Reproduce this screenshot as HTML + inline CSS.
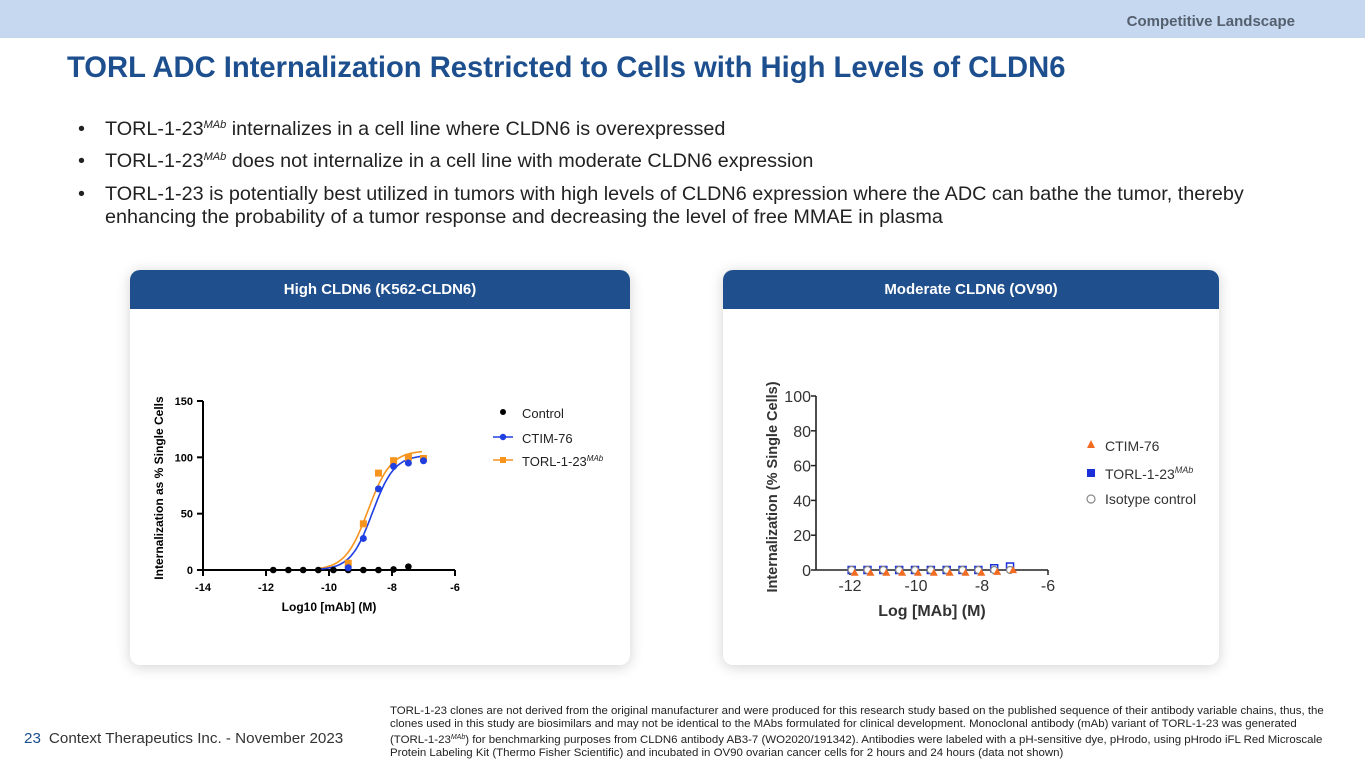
<!DOCTYPE html>
<html><head><meta charset="utf-8">
<style>
*{margin:0;padding:0;box-sizing:border-box}
body{width:1365px;height:768px;position:relative;background:#fff;font-family:"Liberation Sans",Arial,sans-serif;overflow:hidden}
.abs{position:absolute}
.banner{left:0;top:0;width:1365px;height:38px;background:#c5d8ef}
.sect{right:70px;top:13px;font-size:15px;font-weight:bold;color:#55606f}
.title{left:67px;top:52px;font-size:29.2px;font-weight:bold;color:#1d4f8f;white-space:nowrap}
.bul{left:78px;font-size:19.8px;color:#222;white-space:nowrap}
.bul span.d{position:absolute;left:0}
.bul .t{position:absolute;left:27px}
sup{font-size:11px;font-style:italic;vertical-align:7px}
.card{background:#fff;border-radius:10px;box-shadow:0 2px 14px rgba(0,0,0,0.18);overflow:hidden}
.hdr{height:39px;background:#1f4f8c;color:#fff;font-weight:bold;font-size:15px;text-align:center;line-height:40px}
.foot{left:24px;top:730px;font-size:15.2px;color:#333;white-space:nowrap}
.foot b{font-weight:normal;color:#1d4f8f;margin-right:8px}
.note{left:390px;top:705px;width:945px;font-size:11.45px;line-height:13px;color:#222}
.note sup{font-size:7px;vertical-align:4px}
</style></head><body>
<div class="abs banner"></div>
<div class="abs sect">Competitive Landscape</div>
<div class="abs title">TORL ADC Internalization Restricted to Cells with High Levels of CLDN6</div>
<div class="abs bul" style="top:118px"><span class="d">•</span><span class="t">TORL-1-23<sup>MAb</sup> internalizes in a cell line where CLDN6 is overexpressed</span></div>
<div class="abs bul" style="top:150px"><span class="d">•</span><span class="t">TORL-1-23<sup>MAb</sup> does not internalize in a cell line with moderate CLDN6 expression</span></div>
<div class="abs bul" style="top:183px;line-height:23px"><span class="d">•</span><span class="t">TORL-1-23 is potentially best utilized in tumors with high levels of CLDN6 expression where the ADC can bathe the tumor, thereby<br>enhancing the probability of a tumor response and decreasing the level of free MMAE in plasma</span></div>

<div class="abs card" style="left:130px;top:270px;width:500px;height:395px"><div class="hdr">High CLDN6 (K562-CLDN6)</div></div>
<div class="abs card" style="left:723px;top:270px;width:496px;height:395px"><div class="hdr">Moderate CLDN6 (OV90)</div></div>

<svg class="abs" style="left:0;top:0" width="1365" height="768" id="charts"></svg>

<div class="abs foot"><b>23</b>Context Therapeutics Inc. - November 2023</div>
<div class="abs note">TORL-1-23 clones are not derived from the original manufacturer and were produced for this research study based on the published sequence of their antibody variable chains, thus, the clones used in this study are biosimilars and may not be identical to the MAbs formulated for clinical development. Monoclonal antibody (mAb) variant of TORL-1-23 was generated (TORL-1-23<sup>MAb</sup>) for benchmarking purposes from CLDN6 antibody AB3-7 (WO2020/191342). Antibodies were labeled with a pH-sensitive dye, pHrodo, using pHrodo iFL Red Microscale Protein Labeling Kit (Thermo Fisher Scientific) and incubated in OV90 ovarian cancer cells for 2 hours and 24 hours (data not shown)</div>

<script>
// Chart 1 data
const c1Conc = [-11.77,-11.29,-10.82,-10.34,-9.86,-9.39,-8.91,-8.43,-7.95,-7.48,-7.0];
const c1Control = [0,0,0,0,0,0,0,0,0.5,3,99];
const c1Ctim = [null,null,null,null,null,2,28,72,92,95,97];
const c1Torl = [null,null,null,null,null,6,41,86,97,100,99];
const c1CtimFit = [-8.62,102,1.25];   // logEC50, top, hill
const c1TorlFit = [-8.76,106,1.2];
const c1XTicks = [-14,-12,-10,-8,-6];
const c1YTicks = [0,50,100,150];
// Chart 2 data
const c2Conc = [-11.95,-11.47,-10.99,-10.51,-10.03,-9.55,-9.07,-8.59,-8.11,-7.63,-7.15];
const c2Ctim = [-1,-1,-1,-1,-1,-1,-1,-1,-1,-0.5,0.5];
const c2Torl = [0,0,0,0,0,0,0,0,0,1,2];
const c2Iso = [0,0,0,0,0,0,0,0,0,0,0];
const c2XTicks = [-12,-10,-8,-6];
const c2YTicks = [0,20,40,60,80,100];

const NS="http://www.w3.org/2000/svg";
const svg=document.getElementById('charts');
function mk(tag,attrs,parent){const e=document.createElementNS(NS,tag);for(const k in attrs)e.setAttribute(k,attrs[k]);(parent||svg).appendChild(e);return e;}
function txt(x,y,s,attrs,parent){const e=mk('text',Object.assign({x:x,y:y},attrs),parent);e.textContent=s;return e;}

// ---- Chart 1 ----
const x1=v=>203+(v+14)/8*252;
const y1=v=>570-v/150*169;
const g1=mk('g',{});


mk('line',{x1:203,y1:y1(150),x2:203,y2:570,stroke:'#000','stroke-width':2},g1);
mk('line',{x1:203,y1:570,x2:455,y2:570,stroke:'#000','stroke-width':2},g1);
c1YTicks.forEach(t=>{mk('line',{x1:197,y1:y1(t),x2:203,y2:y1(t),stroke:'#000','stroke-width':2},g1);
 const l=txt(193,y1(t)+4,t,{'text-anchor':'end','font-size':11,'font-weight':'bold'},g1);
 
 });
c1XTicks.forEach(t=>{mk('line',{x1:x1(t),y1:570,x2:x1(t),y2:576,stroke:'#000','stroke-width':2},g1);
 const l=txt(x1(t),591,t,{'text-anchor':'middle','font-size':11,'font-weight':'bold'},g1);
 
 });
const xt1=txt(329,611,'Log10 [mAb] (M)',{'text-anchor':'middle','font-size':12,'font-weight':'bold'},g1);


const yt1=txt(0,0,'Internalization as % Single Cells',{'text-anchor':'middle','font-size':12,'font-weight':'bold',transform:'translate(163,488) rotate(-90)'},g1);


function sig(p,x){return p[1]/(1+Math.pow(10,(p[0]-x)*p[2]));}
function curve(p,col,name){let d='';for(let v=-10.3;v<=-7.0;v+=0.05){const yy=sig(p,v);d+=(d?'L':'M')+x1(v).toFixed(1)+','+y1(yy).toFixed(1);}
 const e=mk('path',{d:d,fill:'none',stroke:col,'stroke-width':1.6},g1);
 
 }
curve(c1TorlFit,'#f7941d','torl-fit-curve');
curve(c1CtimFit,'#1f3fe0','ctim-fit-curve');
c1Conc.forEach((c,i)=>{const e=mk('circle',{cx:x1(c),cy:y1(c1Control[i]),r:3.3,fill:'#000'},g1);
 
 });
c1Conc.forEach((c,i)=>{if(c1Torl[i]==null)return;const e=mk('rect',{x:x1(c)-3.5,y:y1(c1Torl[i])-3.5,width:7,height:7,fill:'#f7941d'},g1);
 
 });
c1Conc.forEach((c,i)=>{if(c1Ctim[i]==null)return;const e=mk('circle',{cx:x1(c),cy:y1(c1Ctim[i]),r:3.5,fill:'#1f3fe0'},g1);
 
 });
const lg1=mk('g',{},g1);


mk('circle',{cx:503,cy:412,r:3,fill:'#000'},lg1);txt(522,418,'Control',{'font-size':13,fill:'#222'},lg1);
mk('line',{x1:493,y1:437,x2:513,y2:437,stroke:'#1f3fe0','stroke-width':1.5},lg1);mk('circle',{cx:503,cy:437,r:3.2,fill:'#1f3fe0'},lg1);txt(522,443,'CTIM-76',{'font-size':13,fill:'#222'},lg1);
mk('line',{x1:493,y1:460,x2:513,y2:460,stroke:'#f7941d','stroke-width':1.5},lg1);mk('rect',{x:500,y:457,width:6,height:6,fill:'#f7941d'},lg1);
const tl=txt(522,466,'TORL-1-23',{'font-size':13,fill:'#222'},lg1);const ts=mk('tspan',{'font-size':8,'font-style':'italic',dy:-5},tl);ts.textContent='MAb';

// ---- Chart 2 ----
const x2=v=>850+(v+12)/6*198;
const y2=v=>570-v/100*174;
const g2=mk('g',{});


mk('line',{x1:816,y1:y2(100),x2:816,y2:570,stroke:'#222','stroke-width':1.6},g2);
mk('line',{x1:816,y1:570,x2:1048,y2:570,stroke:'#222','stroke-width':1.6},g2);
c2YTicks.forEach(t=>{mk('line',{x1:811,y1:y2(t),x2:816,y2:y2(t),stroke:'#222','stroke-width':1.5},g2);
 const l=txt(811,y2(t)+6,t,{'text-anchor':'end','font-size':16,fill:'#333'},g2);
 
 });
c2XTicks.forEach(t=>{mk('line',{x1:x2(t),y1:570,x2:x2(t),y2:575,stroke:'#222','stroke-width':1.5},g2);
 const l=txt(x2(t),591,t,{'text-anchor':'middle','font-size':16,fill:'#333'},g2);
 
 });
const xt2=txt(932,616,'Log [MAb] (M)',{'text-anchor':'middle','font-size':16,'font-weight':'bold',fill:'#333'},g2);


const yt2=txt(0,0,'Internalization (% Single Cells)',{'text-anchor':'middle','font-size':14.5,'font-weight':'bold',fill:'#333',transform:'translate(777,487) rotate(-90)'},g2);


c2Conc.forEach((c,i)=>{const e=mk('rect',{x:x2(c)-3.5,y:y2(c2Torl[i])-3.5,width:7,height:7,fill:'#fff',stroke:'#1a2fd8','stroke-width':1.5},g2);
 
 });
c2Conc.forEach((c,i)=>{const e=mk('circle',{cx:x2(c),cy:y2(c2Iso[i]),r:3.5,fill:'#fff',stroke:'#888','stroke-width':1.2},g2);
 
 });
c2Conc.forEach((c,i)=>{const cx=x2(c)+3,cy=y2(c2Ctim[i])+1;const e=mk('polygon',{points:`${cx-4},${cy+3} ${cx},${cy-4} ${cx+4},${cy+3}`,fill:'#f26b21'},g2);
 
 });
const lg2=mk('g',{},g2);


mk('polygon',{points:'1087,448 1091,440 1095,448',fill:'#f26b21'},lg2);txt(1105,451,'CTIM-76',{'font-size':14,fill:'#333'},lg2);
mk('rect',{x:1087,y:469,width:8,height:8,fill:'#1a2fd8'},lg2);
const tl2=txt(1105,479,'TORL-1-23',{'font-size':14,fill:'#333'},lg2);const ts2=mk('tspan',{'font-size':9,'font-style':'italic',dy:-6},tl2);ts2.textContent='MAb';
mk('circle',{cx:1091,cy:499,r:4,fill:'#fff',stroke:'#888','stroke-width':1.2},lg2);txt(1105,504,'Isotype control',{'font-size':14,fill:'#333'},lg2);
</script>
</body></html>
